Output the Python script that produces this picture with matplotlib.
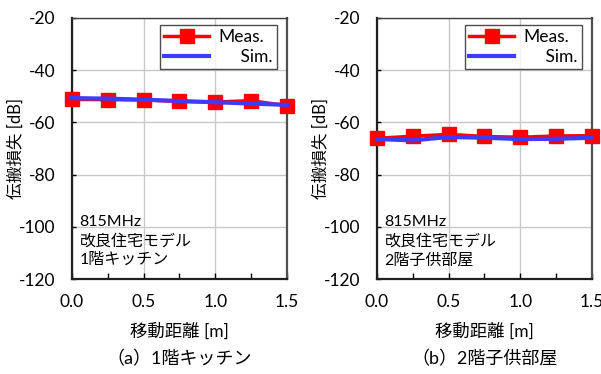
import matplotlib.pyplot as plt
import numpy as np

plt.rcParams['font.family'] = ['Lato', 'Noto Sans CJK JP', 'DejaVu Sans']
plt.rcParams['axes.unicode_minus'] = False

dist = [0.0, 0.25, 0.5, 0.75, 1.0, 1.25, 1.5]

# (a) 1F kitchen
meas_a = [-51.2, -51.3, -51.4, -52.0, -52.2, -51.7, -53.6]
sim_a = [-50.7, -50.9, -51.3, -51.8, -52.3, -52.8, -53.3]
# (b) 2F child room
meas_b = [-66.1, -65.3, -64.6, -65.4, -65.7, -65.2, -65.1]
sim_b = [-66.4, -66.9, -65.6, -65.9, -66.4, -66.3, -65.9]

notes = ['815MHz\n改良住宅モデル\n1階キッチン', '815MHz\n改良住宅モデル\n2階子供部屋']
captions = ['（a）1階キッチン', '（b）2階子供部屋']

fig = plt.figure(figsize=(6.01, 3.74), dpi=100)
lefts = [0.1198, 0.6273]
panels = [(meas_a, sim_a), (meas_b, sim_b)]

for i, (meas, sim) in enumerate(panels):
    ax = fig.add_axes([lefts[i], 0.254, 0.3577, 0.698])
    ax.plot(dist, meas, color='#ff0000', lw=2.5, marker='s', ms=10,
            label='Meas.', zorder=3, clip_on=False)
    ax.plot(dist, sim, color='#3c3cff', lw=3, label='     Sim.', zorder=4,
            clip_on=False)
    ax.set_xlim(0, 1.5)
    ax.set_ylim(-120, -20)
    ax.set_xticks(np.arange(0, 1.51, 0.5))
    ax.set_xticks(np.arange(0, 1.51, 0.25), minor=True)
    ax.set_xticklabels(['0.0', '0.5', '1.0', '1.5'])
    ax.set_yticks(np.arange(-120, -19, 20))
    ax.grid(True, color='#c8c8c8', lw=1)
    ax.set_axisbelow(True)
    ax.tick_params(which='both', direction='in', labelsize=12.5,
                   top=False, right=False)
    ax.tick_params(axis='x', which='both', length=4, width=1, pad=11)
    ax.tick_params(axis='y', length=3, width=1, pad=12)
    for side in ['left', 'bottom']:
        ax.spines[side].set_color('#202020')
        ax.spines[side].set_linewidth(1.6)
    ax.spines['right'].set_color('#505050')
    ax.spines['right'].set_linewidth(1.6)
    ax.spines['top'].set_color('#404040')
    ax.spines['top'].set_linewidth(1.0)
    ax.set_xlabel('移動距離 [m]', fontsize=12.5, labelpad=9)
    ax.set_ylabel('伝搬損失 [dB]', fontsize=12, va='center')
    ax.yaxis.set_label_coords(-0.262, 0.5)
    ax.text(0.035, 0.245, notes[i], transform=ax.transAxes, fontsize=11.5,
            va='top', ha='left', linespacing=1.4)
    leg = ax.legend(loc='upper right', bbox_to_anchor=(0.953, 0.973),
                    borderaxespad=0, fontsize=12.5, frameon=True,
                    fancybox=False, edgecolor='#202020', handlelength=2.6,
                    borderpad=0.25, labelspacing=0.2, handletextpad=0.5)
    leg.get_frame().set_linewidth(1.0)
    fig.text(lefts[i] + 0.3577 / 2, 0.04, captions[i], ha='center',
             va='center', fontsize=13)

plt.savefig('out.png', dpi=100)
